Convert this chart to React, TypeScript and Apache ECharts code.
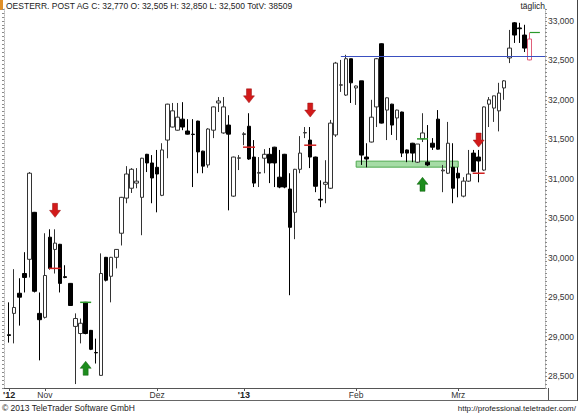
import React, { useEffect, useRef } from 'react';
import * as echarts from 'echarts';

// Daily OHLC for Österreichische Post AG, 23 Oct 2012 – 21 Mar 2013
const opens = [
  29025, 29295, 29550, 29800, 29980, 30575, 29295, 29245, 30260, 30105,
  30170, 29760, 29675, 29130, 29040, 29435, 29080, 28800, 28510, 30005,
  29765, 30005, 30310, 30755, 30880, 30945, 30765, 31310, 31200, 31145,
  30790, 31490, 31655, 31615, 31755, 31605, 31565, 31730, 31350, 31175,
  31615, 31960, 31580, 31680, 30780, 31260, 31560, 31665, 31275, 31070,
  31260, 31310, 31400, 31020, 31310, 30870, 30575, 31120, 31580, 31490,
  31275, 30740, 30930, 30880, 31555, 32185, 32060, 32520, 32150, 32240,
  31275, 31465, 31910, 32710, 31870, 31945, 31770, 31845, 31365, 31450,
  31210, 31505, 31210, 31450, 31755, 31100, 31070, 31145, 31070, 30780,
  30970, 31325, 31275, 31110, 31945, 31895, 31860, 32150, 32530, 32975,
  32910, 32820, 32505,
];
const highs = [
  29435, 29855, 29740, 30070, 31085, 30580, 29560, 30310, 30360, 30360,
  30175, 29905, 29680, 29295, 29230, 29440, 29085, 28975, 30055, 30010,
  30010, 30110, 30770, 31160, 31135, 31135, 31265, 31315, 31300, 31365,
  31450, 31950, 31960, 31960, 31970, 31755, 31755, 31735, 31355, 31640,
  31915, 32035, 32035, 31805, 31280, 31300, 31590, 31830, 31490, 31275,
  31375, 31390, 31405, 31365, 31315, 31070, 31125, 31540, 31655, 31655,
  31280, 30980, 31235, 31745, 32480, 32505, 32570, 32520, 32180, 32240,
  31450, 32000, 32530, 32715, 32030, 31950, 31875, 31850, 31370, 31455,
  31440, 31830, 31680, 31515, 31870, 31175, 31720, 31450, 31145, 31020,
  31365, 31365, 31365, 31915, 32035, 32050, 32215, 32250, 32885, 32985,
  32975, 32950, 32850,
];
const lows = [
  28925, 28915, 29140, 29560, 29750, 29560, 28700, 29230, 29850, 29800,
  29560, 29740, 29390, 28400, 28915, 29030, 28830, 28660, 28505, 29700,
  29435, 29865, 30155, 30690, 30820, 30880, 30285, 31085, 30690, 30575,
  30780, 31260, 31650, 31610, 31615, 31560, 30895, 31070, 31070, 31140,
  31515, 31845, 31570, 30600, 30770, 31110, 31425, 31240, 30895, 30895,
  31070, 30945, 30895, 30880, 30880, 29525, 30235, 31070, 31515, 31135,
  30830, 30640, 30690, 30870, 31530, 32100, 32050, 31960, 31935, 31175,
  31145, 31460, 31655, 31700, 31490, 31555, 31490, 31275, 31210, 31210,
  31200, 31465, 31160, 31365, 31370, 30830, 31060, 30690, 30765, 30765,
  30960, 31090, 30955, 31100, 31655, 31720, 31600, 32000, 32465, 32720,
  32720, 32605, 32500,
];
const closes = [
  29015, 29370, 29500, 29750, 31070, 29575, 29215, 29775, 29865, 30185,
  29675, 29750, 29395, 29230, 29170, 29040, 28840, 28795, 29800, 29715,
  30005, 30105, 30765, 31060, 31120, 30970, 31260, 31200, 31010, 31060,
  31365, 31945, 31860, 31780, 31655, 31565, 31560, 31340, 31160, 31630,
  31910, 31985, 31910, 31565, 31275, 31265, 31570, 31250, 30945, 31080,
  31310, 31200, 31200, 30895, 30895, 30385, 31120, 31325, 31585, 31275,
  30905, 30730, 30955, 31705, 32465, 32190, 32520, 32215, 32175, 31300,
  31250, 31780, 32520, 31705, 32025, 31680, 31870, 31325, 31325, 31325,
  31440, 31580, 31175, 31400, 31375, 31110, 31450, 30880, 31010, 30970,
  31060, 31095, 31225, 31910, 32000, 32050, 32085, 32240, 32655, 32820,
  32900, 32655, 32770,
];

const firstDay = '2012-10-23';
const lastDay = '2013-03-21';
const exchangeHolidays = ['2012-12-24', '2012-12-25', '2012-12-26', '2012-12-31', '2013-01-01'];
const monthNames = ['Jan', 'Feb', 'Mrz', 'Apr', 'Mai', 'Jun', 'Jul', 'Aug', 'Sep', 'Okt', 'Nov', 'Dez'];

// Drawing marks: [candle index, price]
const sellSignals = [[9, 30600], [47, 32050], [59, 31870], [92, 31490]];
const buySignals = [[15, 28600], [81, 30930]];
const sellLevels = [[9, 29865], [47, 31400], [59, 31425], [92, 31070]];
const buyLevels = [[15, 29435], [81, 31505]];
const supportZone = { from: 68, to: 88, top: 31223, bottom: 31147 };
const resistance = { from: 65, price: 32550 };
const lastHighMark = 32850;

const quote = { name: 'OESTERR. POST AG', c: 32770, o: 32505, h: 32850, l: 32500, vol: 38509 };

const FONT = '"Liberation Sans", Arial, Helvetica, sans-serif';
const LEFT_PAD = 1;
const RIGHT_PAD = 3;

function tradingDays(from: string, to: string, holidays: string[]): string[] {
  const out: string[] = [];
  const d = new Date(from + 'T00:00:00Z');
  const end = new Date(to + 'T00:00:00Z');
  while (d <= end) {
    const iso = d.toISOString().slice(0, 10);
    const wd = d.getUTCDay();
    if (wd !== 0 && wd !== 6 && !holidays.includes(iso)) out.push(iso);
    d.setUTCDate(d.getUTCDate() + 1);
  }
  return out;
}

const fmt = (v: number) => v.toLocaleString('en-US');

export default function App() {
  const ref = useRef<HTMLDivElement>(null);

  useEffect(() => {
    document.body.style.margin = '0';
    const chart = echarts.init(ref.current!, null, { renderer: 'svg' });

    const days = tradingDays(firstDay, lastDay, exchangeHolidays);
    const categories: string[] = [];
    for (let i = 0; i < LEFT_PAD; i++) categories.push('lead' + i);
    days.forEach((d) => categories.push(d));
    for (let i = 0; i < RIGHT_PAD; i++) categories.push('tail' + i);

    // axis labels: year mark at the start, then first session of each month
    const labelText: Record<number, string> = {};
    days.forEach((d, i) => {
      const k = i + LEFT_PAD;
      const m = Number(d.slice(5, 7)) - 1;
      if (i === 0) {
        labelText[k] = "{y|'" + d.slice(2, 4) + '}';
      } else if (d.slice(5, 7) !== days[i - 1].slice(5, 7)) {
        labelText[k] = m === 0 ? "{y|'" + d.slice(2, 4) + '}' : monthNames[m];
      }
    });
    const showLabel = (idx: number) => labelText[idx] !== undefined;

    const last = opens.length - 1;
    const candles = opens.map((o, i) => {
      const value = [i + LEFT_PAD, o, closes[i], lows[i], highs[i]];
      if (i === last) {
        return { value, itemStyle: { color: '#fff', color0: '#fff', borderColor: '#e0607a', borderColor0: '#e0607a' } };
      }
      return { value };
    });

    const downArrow = 'path://M3,0 L8,0 L8,7 L11,7 L5.5,14 L0,7 L3,7 Z';
    const upArrow = 'path://M5.5,0 L11,7 L8,7 L8,14 L3,14 L3,7 L0,7 Z';

    const markPoints: any[] = [];
    sellSignals.forEach(([i, p]) =>
      markPoints.push({ coord: [i + LEFT_PAD, p], symbol: downArrow, symbolSize: [11, 14],
        itemStyle: { color: '#d21a1a', borderColor: '#9a1010', borderWidth: 0.5 } }));
    buySignals.forEach(([i, p]) =>
      markPoints.push({ coord: [i + LEFT_PAD, p], symbol: upArrow, symbolSize: [11, 14],
        itemStyle: { color: '#1c8c1c', borderColor: '#0e5e0e', borderWidth: 0.5 } }));
    sellLevels.forEach(([i, p]) =>
      markPoints.push({ coord: [i + LEFT_PAD, p], symbol: 'rect', symbolSize: [12, 1.5],
        itemStyle: { color: '#d02020' } }));
    buyLevels.forEach(([i, p]) =>
      markPoints.push({ coord: [i + LEFT_PAD, p], symbol: 'rect', symbolSize: [11, 1.5],
        itemStyle: { color: '#2a9a2a' } }));

    const option: any = {
      animation: false,
      backgroundColor: '#fff',
      textStyle: { fontFamily: FONT },
      grid: { left: 4, top: 9, width: 541, height: 379 },
      xAxis: {
        type: 'category',
        data: categories,
        boundaryGap: false,
        axisLine: { show: true, lineStyle: { color: '#555', width: 1 } },
        axisTick: { show: true, interval: (idx: number) => showLabel(idx), length: 3, lineStyle: { color: '#555' } },
        axisLabel: {
          interval: (idx: number) => showLabel(idx),
          formatter: (_v: string, idx: number) => labelText[idx] ?? '',
          fontSize: 8.5,
          color: '#333',
          margin: 2,
          fontFamily: FONT,
          rich: { y: { fontWeight: 'bold', fontSize: 9, color: '#222', fontFamily: FONT } },
        },
        splitLine: { show: false },
      },
      yAxis: [
        {
          type: 'value',
          position: 'right',
          min: 28350,
          max: 33150,
          interval: 50,
          splitLine: { show: false },
          axisLine: { show: true, lineStyle: { color: '#b8b8b8', type: 'dotted' } },
          axisTick: { show: true, length: 2, lineStyle: { color: '#8a8a8a' } },
          axisLabel: {
            formatter: (v: number) => (v % 500 === 0 ? fmt(v) : ''),
            fontSize: 8.5,
            color: '#333',
            margin: 3,
            fontFamily: FONT,
          },
        },
        {
          type: 'value',
          position: 'left',
          min: 28350,
          max: 33150,
          interval: 50,
          splitLine: { show: false },
          axisLine: { show: true, lineStyle: { color: '#b8b8b8', type: 'dotted' } },
          axisTick: { show: true, length: 2, lineStyle: { color: '#8a8a8a' } },
          axisLabel: { show: false },
        },
      ],
      series: [
        {
          type: 'candlestick',
          yAxisIndex: 0,
          barWidth: 4,
          encode: { x: 0, y: [1, 2, 3, 4] },
          data: candles,
          itemStyle: { color: '#fff', color0: '#000', borderColor: '#333', borderColor0: '#000', borderWidth: 1 },
          markArea: {
            silent: true,
            itemStyle: { color: '#a6dca6', borderColor: '#4ea84e', borderWidth: 1 },
            data: [[
              { coord: [supportZone.from + LEFT_PAD, supportZone.top] },
              { coord: [supportZone.to + LEFT_PAD, supportZone.bottom] },
            ]],
          },
          markLine: {
            silent: true,
            symbol: ['none', 'none'],
            label: { show: false },
            data: [
              [
                { coord: [resistance.from + LEFT_PAD, resistance.price], lineStyle: { color: '#3a4fc0', width: 1, type: 'solid' } },
                { coord: [categories.length - 1, resistance.price] },
              ],
              [
                { coord: [last + LEFT_PAD, lastHighMark], lineStyle: { color: '#2a9a2a', width: 1.2, type: 'solid' } },
                { coord: [last + LEFT_PAD + 2, lastHighMark] },
              ],
              {
                yAxis: quote.c,
                lineStyle: { opacity: 0 },
                label: {
                  show: true,
                  position: 'end',
                  formatter: fmt(quote.c),
                  backgroundColor: '#111',
                  color: '#fff',
                  fontSize: 8.5,
                  fontFamily: FONT,
                  padding: [2, 2, 1, 2],
                  distance: 2,
                },
              },
            ],
          },
          markPoint: {
            silent: true,
            label: { show: false },
            data: markPoints,
          },
        },
      ],
      graphic: [
        { type: 'rect', shape: { x: 0, y: 0, width: 3, height: 10 }, style: { fill: '#e0902a' } },
        {
          type: 'text', x: 6, y: 1,
          style: {
            text: `${quote.name} C: ${fmt(quote.c)} O: ${fmt(quote.o)} H: ${fmt(quote.h)} L: ${fmt(quote.l)} TotV: ${quote.vol}`,
            font: `8.5px ${FONT}`, fill: '#222', textVerticalAlign: 'top', verticalAlign: 'top',
          },
        },
        {
          type: 'text', x: 545, y: 1,
          style: { text: 'täglich', font: `8.5px ${FONT}`, fill: '#222', textAlign: 'right', align: 'right', textVerticalAlign: 'top', verticalAlign: 'top' },
        },
        { type: 'line', shape: { x1: 548.5, y1: 388, x2: 548.5, y2: 400 }, style: { stroke: '#555', lineWidth: 1 } },
        { type: 'line', shape: { x1: 0, y1: 400.5, x2: 578, y2: 400.5 }, style: { stroke: '#666', lineWidth: 1 } },
        { type: 'line', shape: { x1: 577.5, y1: 0, x2: 577.5, y2: 401 }, style: { stroke: '#444', lineWidth: 1 } },
        {
          type: 'text', x: 2, y: 403,
          style: { text: '© 2013 TeleTrader Software GmbH', font: `8.5px ${FONT}`, fill: '#222', textVerticalAlign: 'top', verticalAlign: 'top' },
        },
        {
          type: 'text', x: 576, y: 404,
          style: { text: 'http://professional.teletrader.com/', font: `8px ${FONT}`, fill: '#222', textAlign: 'right', align: 'right', textVerticalAlign: 'top', verticalAlign: 'top' },
        },
      ],
    };

    chart.setOption(option);
    return () => chart.dispose();
  }, []);

  return <div ref={ref} style={{ width: 578, height: 415 }} />;
}
